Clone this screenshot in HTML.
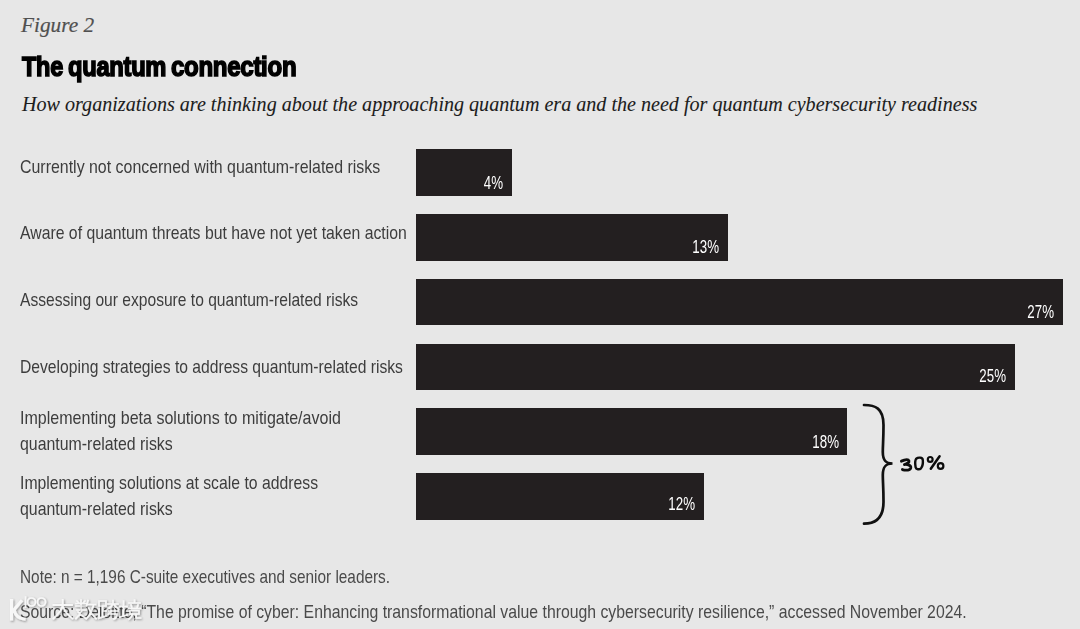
<!DOCTYPE html>
<html>
<head>
<meta charset="utf-8">
<style>
html,body{margin:0;padding:0;}
body{width:1080px;height:629px;background:#e7e7e7;position:relative;overflow:hidden;font-family:"Liberation Sans",sans-serif;}
.t{position:absolute;white-space:nowrap;transform-origin:0 0;}
.fig{left:21px;top:14.5px;font-family:"Liberation Serif",serif;font-style:italic;font-size:21.3px;line-height:21.3px;color:#505050;-webkit-text-stroke:0.2px #505050;}
.title{top:52.6px;font-weight:bold;font-size:28px;line-height:28px;color:#000;-webkit-text-stroke:1.6px #000;letter-spacing:-0.35px;}
.sub{left:22px;top:93.8px;font-family:"Liberation Serif",serif;font-style:italic;font-size:20.1px;line-height:20.1px;color:#1c1c1c;-webkit-text-stroke:0.08px #1c1c1c;}
.lab{left:20px;font-size:19px;line-height:19px;color:#3d3d3d;}
.bar{position:absolute;left:416px;height:46.5px;background:#231f20;}
.pct{position:absolute;font-size:18px;line-height:18px;color:#fff;transform-origin:100% 0;transform:scaleX(0.74);white-space:nowrap;}
.note{left:20px;font-size:18.5px;line-height:18.5px;color:#4a4a4a;}
</style>
</head>
<body>
<div class="t fig">Figure 2</div>
<div class="t title" style="left:21.5px;transform:scaleX(0.84)">The</div>
<div class="t title" style="left:68px;transform:scaleX(0.848)">quantum</div>
<div class="t title" style="left:171px;transform:scaleX(0.859)">connection</div>
<div class="t sub">How organizations are thinking about the approaching quantum era and the need for quantum cybersecurity readiness</div>

<div class="t lab" style="top:157px;transform:scaleX(0.838)">Currently not concerned with quantum-related risks</div>
<div class="t lab" style="top:223.3px;transform:scaleX(0.831)">Aware of quantum threats but have not yet taken action</div>
<div class="t lab" style="top:290px;transform:scaleX(0.821)">Assessing our exposure to quantum-related risks</div>
<div class="t lab" style="top:356.5px;transform:scaleX(0.824)">Developing strategies to address quantum-related risks</div>
<div class="t lab" style="top:408.1px;transform:scaleX(0.844)">Implementing beta solutions to mitigate/avoid</div>
<div class="t lab" style="top:434px;transform:scaleX(0.836)">quantum-related risks</div>
<div class="t lab" style="top:472.8px;transform:scaleX(0.83)">Implementing solutions at scale to address</div>
<div class="t lab" style="top:498.7px;transform:scaleX(0.836)">quantum-related risks</div>

<div class="bar" style="top:149.3px;width:96px"></div>
<div class="bar" style="top:214.2px;width:312px"></div>
<div class="bar" style="top:278.8px;width:647px"></div>
<div class="bar" style="top:343.6px;width:599px"></div>
<div class="bar" style="top:408.3px;width:431px"></div>
<div class="bar" style="top:473px;width:288px"></div>

<div class="pct" style="right:577px;top:173.7px">4%</div>
<div class="pct" style="right:361px;top:237.7px">13%</div>
<div class="pct" style="right:26px;top:302.7px">27%</div>
<div class="pct" style="right:74px;top:366.7px">25%</div>
<div class="pct" style="right:241px;top:432.7px">18%</div>
<div class="pct" style="right:385px;top:494.7px">12%</div>

<svg style="position:absolute;left:0;top:0" width="1080" height="629" viewBox="0 0 1080 629">
<path d="M864 405 C875 405 883.5 408 883.5 425 C883.5 440 882.8 445 882.8 452 C882.8 460 885.5 463.5 892.5 463.5 C885.5 463.5 882.8 467 882.8 475 C882.8 482 883.5 487 883.5 502 C883.5 519 875 523.7 864 523.7" fill="none" stroke="#111" stroke-width="2.7" stroke-linecap="round"/>
<g fill="none" stroke="#0c0c0c" stroke-linecap="round" stroke-linejoin="round">
<path d="M901.4 461.19 L904.3 460.14 C906.3 459.61 908.6 459.87 909.0 461.02 C909.4 462.42 907.3 463.74 904.4 464.54 C907.8 464.18 911.1 465.42 910.8 467.7 C910.4 470.17 906.3 470.87 902.4 469.55" stroke-width="2.8"/>
<path transform="translate(0.2 0.5)" d="M916 458.2 C918 456.6 922.4 456.6 922.6 459.5 C922.9 462.5 922.2 466.2 920.8 467.8 C919.2 469.4 915.8 469 915.4 466.8 C915 464.5 914.8 460 916 458.2 Z" stroke-width="2.4"/>
<circle cx="930.2" cy="459.4" r="2.4" stroke-width="2.2"/>
<circle cx="940.6" cy="466" r="2.8" stroke-width="2.2"/>
<path d="M939.6 456.2 L930.8 468.8" stroke-width="2.5"/>
</g>
</svg>

<div class="t note" style="top:568px;transform:scaleX(0.83)">Note: n = 1,196 C-suite executives and senior leaders.</div>
<div class="t note" style="top:602.7px;transform:scaleX(0.854)">Source: Deloitte, “The promise of cyber: Enhancing transformational value through cybersecurity resilience,” accessed November 2024.</div>
<svg style="position:absolute;left:0;top:0" width="1080" height="629" viewBox="0 0 1080 629">
<defs><filter id="sh" x="-20%" y="-40%" width="140%" height="180%"><feGaussianBlur in="SourceAlpha" stdDeviation="1.3"/><feOffset dx="0.6" dy="0.9"/><feComponentTransfer><feFuncA type="linear" slope="0.45"/></feComponentTransfer><feMerge><feMergeNode/><feMergeNode in="SourceGraphic"/></feMerge></filter></defs>
<g filter="url(#sh)" fill="none" stroke="#fbfbfb" stroke-opacity="0.92" stroke-linecap="square">
<path d="M11.5 600.5 L11.5 619 M13 611 L21 601.5 M14.5 611 Q16 618 24 619" stroke-width="3.2"/>
<path d="M25.5 597 L25.5 607" stroke-width="1.6"/>
<circle cx="31.5" cy="602" r="4" stroke-width="1.7"/>
<circle cx="41.5" cy="602" r="4" stroke-width="1.7"/>
<path d="M53.5 605 L72 605 M62.7 600 L62.7 606 Q60 613 53.5 618.5 M63 607 Q66 614 72.5 618.5" stroke-width="1.9"/>
<path d="M76 603.5 L86 603.5 M81 600 L81 610 M77 601 L79 603 M85 601 L83 603 M76 606 L86 606 M77 610 L86 610 M82 610 Q80 615 76 618.5 M78 612 Q82 616 86 618.5 M88 600.5 L86.5 606 M87 604.5 L95.5 604.5 M93.5 605 Q92 613 86.5 618.5 M88.5 608 Q91 614 96 618.5" stroke-width="1.7"/>
<path d="M99 601 L106 601 L106 606 L99 606 Z M102.5 606 L102.5 617 M102.5 611 L106 611 M99 609 L99 618 L106 616 M108 604 L118 604 M113 600.5 L113 604 Q111 608 107.5 609 M114 605 L118.5 609 M109 611 L118 611 M111 611 L109 614 L117 614 Q117 618 114 619" stroke-width="1.7"/>
<path d="M120 606.5 L127 606.5 M123.5 601 L123.5 616 M120 617 L127 615 M129 603 L140 603 M134.5 600 L134.5 603 M131 605 L132 608 M138 605 L137 608 M128.5 608.5 L140.5 608.5 M130 610.5 L139 610.5 L139 614 L130 614 Z M132.5 614 Q132 617 129 619 M136 614 L136 618 L140.5 618" stroke-width="1.7"/>
</g>
</svg>
</body>
</html>
